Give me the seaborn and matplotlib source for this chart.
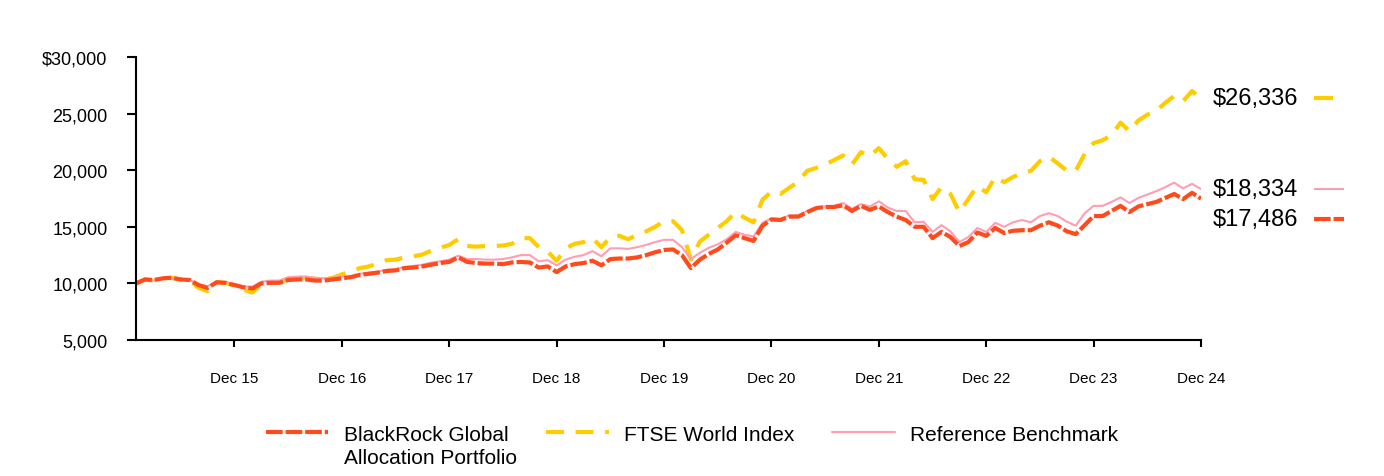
import numpy as np
import pandas as pd
import seaborn as sns
import matplotlib.pyplot as plt
from matplotlib.lines import Line2D

# monthly growth of $10,000, Jan 2015 .. Dec 2024
fund = [
    10000, 10350, 10300, 10450, 10500, 10350, 10300, 9850, 9600, 10100, 10050, 9850,
    9650, 9550, 10000, 10050, 10050, 10300, 10350, 10350, 10250, 10250, 10350, 10450,
    10550, 10750, 10850, 10950, 11100, 11150, 11350, 11400, 11500, 11650, 11800, 11900,
    12300, 11900, 11800, 11750, 11750, 11700, 11850, 11900, 11850, 11400, 11500, 11000,
    11500, 11700, 11800, 12000, 11600, 12150, 12200, 12200, 12300, 12500, 12750, 12950,
    13000, 12500, 11350, 12100, 12600, 13000, 13600, 14250, 14000, 13750, 15100, 15650,
    15600, 15900, 15900, 16300, 16650, 16750, 16750, 16900, 16400, 16850, 16500, 16800,
    16300, 15900, 15600, 15000, 15000, 14000, 14550, 14100, 13300, 13650, 14500, 14200,
    14900, 14450, 14650, 14700, 14700, 15100, 15400, 15100, 14600, 14350, 15150, 15950,
    15950, 16400, 16850, 16300, 16800, 17000, 17200, 17550, 17900, 17450, 18000, 17486,
]
ftse = [
    10000, 10350, 10250, 10450, 10500, 10300, 10250, 9600, 9300, 10100, 10050, 9800,
    9450, 9200, 9950, 10100, 10100, 10400, 10500, 10500, 10400, 10350, 10500, 10800,
    11050, 11350, 11500, 11750, 12050, 12100, 12300, 12400, 12550, 12900, 13150, 13400,
    13900, 13300, 13250, 13300, 13300, 13350, 13500, 14000, 14000, 13200, 12800, 12000,
    13100, 13500, 13650, 14000, 13200, 14100, 14200, 13900, 14300, 14600, 15000, 15500,
    15500, 14700, 12100, 13700, 14300, 14900, 15500, 16300, 15800, 15400, 17400, 18100,
    17900, 18450, 19000, 19950, 20200, 20500, 20900, 21300, 20500, 21600, 21250, 21950,
    21000, 20300, 20800, 19200, 19150, 17450, 18500, 17900, 16300, 17450, 18600, 18050,
    19400, 18950, 19400, 19750, 19950, 20800, 21200, 20600, 19950, 19950, 21450, 22400,
    22650, 23100, 24200, 23450, 24400, 24900, 25250, 25950, 26550, 26100, 27000, 26336,
]
bench = [
    10000, 10300, 10250, 10400, 10450, 10300, 10300, 9900, 9750, 10150, 10100, 9950,
    9750, 9700, 10150, 10250, 10250, 10550, 10600, 10600, 10500, 10450, 10500, 10600,
    10650, 10850, 10950, 11050, 11200, 11250, 11450, 11550, 11650, 11850, 11950, 12100,
    12450, 12150, 12150, 12100, 12100, 12150, 12300, 12500, 12500, 11950, 12050, 11600,
    12100, 12350, 12500, 12850, 12400, 13100, 13100, 13050, 13200, 13400, 13650, 13850,
    13850, 13200, 12150, 12700, 13150, 13450, 13900, 14550, 14300, 14150, 15350, 15750,
    15700, 16000, 16000, 16400, 16700, 16800, 16850, 17100, 16600, 17000, 16800, 17250,
    16700, 16400, 16400, 15400, 15450, 14550, 15150, 14600, 13650, 14100, 14900, 14550,
    15350, 15000, 15400, 15600, 15400, 15950, 16200, 15950, 15450, 15100, 16200, 16850,
    16850, 17200, 17600, 17100, 17550, 17850, 18150, 18500, 18900, 18400, 18800, 18334,
]
tick_labels = ["Dec 15", "Dec 16", "Dec 17", "Dec 18", "Dec 19",
               "Dec 20", "Dec 21", "Dec 22", "Dec 23", "Dec 24"]
names = ["BlackRock Global", "FTSE World Index", "Reference Benchmark"]
end_labels = ["$17,486", "$26,336", "$18,334"]

c_fund = "#FF4A1C"
c_ftse = "#FFCC00"
c_bench = "#FF9DB5"

months = np.arange(len(fund))

sns.set_style("white")
plt.rcParams["font.family"] = ["Liberation Sans", "DejaVu Sans"]
plt.rcParams["text.color"] = "black"

fig = plt.figure(figsize=(13.84, 4.77), dpi=100)
ax = fig.add_axes([0.0983, 0.2851, 0.7695, 0.5933])

sns.lineplot(x=months, y=ftse, ax=ax, color=c_ftse, linewidth=3)
l_ftse = ax.get_lines()[-1]
l_ftse.set_dashes((4.3, 2.8))
sns.lineplot(x=months, y=bench, ax=ax, color=c_bench, linewidth=1.5)
l_bench = ax.get_lines()[-1]
sns.lineplot(x=months, y=fund, ax=ax, color=c_fund, linewidth=3)
l_fund = ax.get_lines()[-1]
l_fund.set_dashes((4, 0.7))

ax.set_xlim(0, len(fund) - 1)
ax.set_ylim(5000, 30000)
ax.set_xticks(months[11::12])
ax.set_xticklabels(tick_labels)
yt = np.arange(5000, 30001, 5000)
ax.set_yticks(yt)
ax.set_yticklabels([("$" if v == 30000 else "") + f"{v:,}" for v in yt])
ax.tick_params(axis="y", labelsize=13, length=6.5, width=1.5, pad=14, colors="black")
ax.tick_params(axis="x", labelsize=11, length=5, width=1.5, pad=17, colors="black")
ax.tick_params(left=True, bottom=True, direction="out")
sns.despine(ax=ax)
for s in ["left", "bottom"]:
    ax.spines[s].set_color("black")
    ax.spines[s].set_linewidth(1.5)
ax.grid(False)
ax.set_xlabel("")
ax.set_ylabel("")

# end-of-period labels with a short line sample after each
last = len(fund) - 1
ends = [(fund[-1], -14.4, l_fund, (4, 0.7), 30),
        (ftse[-1], 0, l_ftse, None, 19),
        (bench[-1], 0, l_bench, None, 30)]
for (val, dy, ln, dash, w), txt in zip(ends, end_labels):
    ax.annotate(txt, xy=(last, val), xytext=(8.6, dy), textcoords="offset points",
                fontsize=17, va="center", ha="left", annotation_clip=False,
                color="black")

fig.canvas.draw()
for (val, dy, ln, dash, w) in ends:
    xd, yd = ax.transData.transform((last, val))
    ypix = yd + dy / 72 * fig.dpi
    mk = Line2D([1314 / 1384, (1314 + w) / 1384], [ypix / fig.bbox.height] * 2,
                transform=fig.transFigure, color=ln.get_color(),
                linewidth=ln.get_linewidth(), solid_capstyle="butt",
                dash_capstyle="butt")
    if dash is not None:
        mk.set_dashes(dash)
    fig.add_artist(mk)

leg = fig.legend([l_fund, l_ftse, l_bench], names, loc="center",
                 bbox_to_anchor=(0.5, 0.088), ncol=3, frameon=False, fontsize=15,
                 handlelength=3.0, handletextpad=0.75, columnspacing=1.8,
                 labelcolor="black")

fig.canvas.draw()
renderer = fig.canvas.get_renderer()
bb = leg.get_texts()[0].get_window_extent(renderer)
fig.text(bb.x0 / fig.bbox.width, ((bb.y0 + bb.y1) / 2 - 23) / fig.bbox.height,
         "Allocation Portfolio", fontsize=15, va="center", ha="left", color="black")

fig.savefig("out.png", dpi=100)
